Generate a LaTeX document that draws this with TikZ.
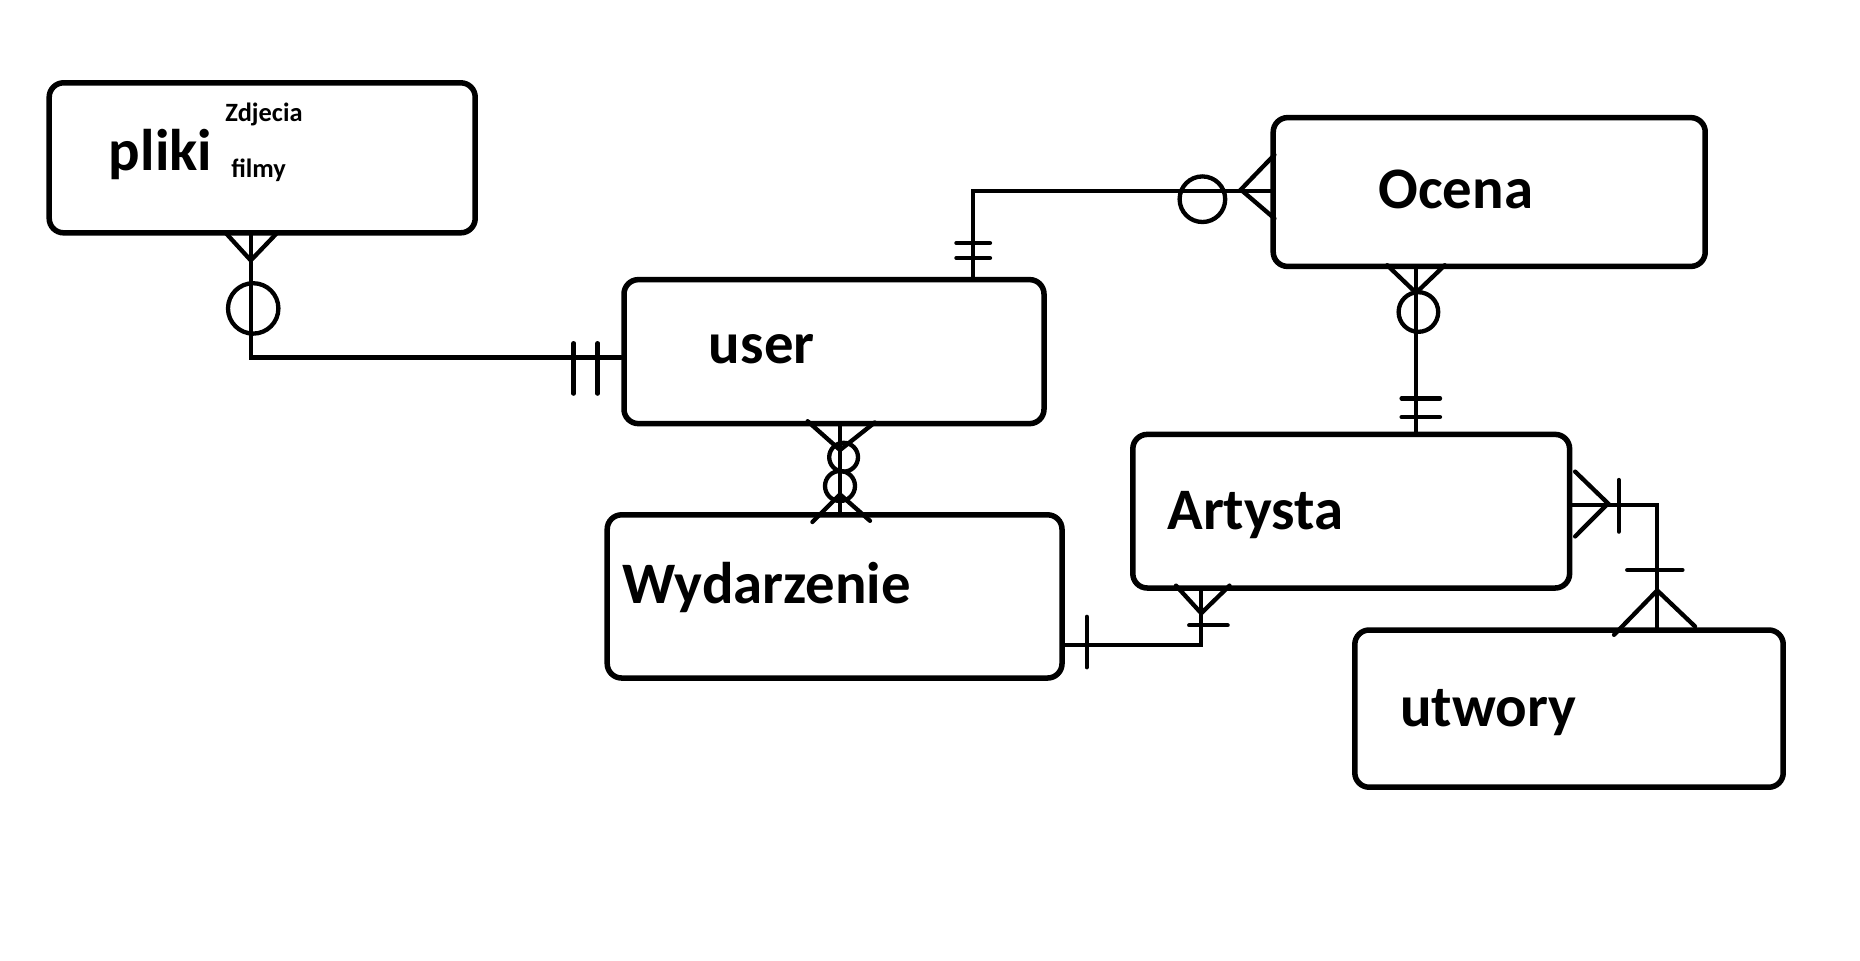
\documentclass[tikz,border=0pt]{standalone}
\usepackage{fontspec}
\setmainfont{Carlito}
\usetikzlibrary{fit}
\newcommand{\ent} {\fontsize{24.5}{29}\selectfont\bfseries}
\newcommand{\attr}{\fontsize{11}{13}\selectfont\bfseries}

\begin{document}
\begin{tikzpicture}[x=0.5pt,y=-0.5pt,line width=1.8pt,line cap=round,
    box/.style={draw,line width=2.3pt,rounded corners=6pt,inner sep=0pt},
    lbl/.style={anchor=base west,inner sep=0pt}]
      \useasboundingbox (0,0) rectangle (1550,800);
      % entities
      \node[box,fit={(41,69) (396,194)}]    (pliki)   {};
      \node[box,fit={(520,233) (870,353)}]  (user)    {};
      \node[box,fit={(1061,98) (1421,222)}] (ocena)   {};
      \node[box,fit={(944,362) (1308,490)}] (artysta) {};
      \node[box,fit={(506,429) (885,565)}]  (wyd)     {};
      \node[box,fit={(1129,525) (1486,656)}] (utwory) {};
      \node[lbl] (plikiL)   at (89,142)  {\ent pliki};
      \node[lbl] (zdjL)     at (186,101) {\attr Zdjecia};
      \node[lbl] (filmyL)   at (191,148) {\attr filmy};
      \node[lbl] (userL)    at (589,303) {\ent user};
      \node[lbl] (ocenaL)   at (1147,174) {\ent Ocena};
      \node[lbl] (artystaL) at (971,441) {\ent Artysta};
      \node[lbl] (wydL)     at (517,503) {\ent Wydarzenie};
      \node[lbl] (utworyL)  at (1165,605) {\ent utwory};
      % pliki -- user
      \draw (pliki.south -| 209,0) |- (user.west |- 0,298);
      \draw (188,194) -- (209,217) -- (231,194);
      \draw (211,257) circle[radius=21];
      \draw (478,286) -- (478,328) (498,286) -- (498,328);
      % user -- ocena
      \draw (user.north -| 811,0) |- (ocena.west |- 0,159);
      \draw (797,202.5) -- (825,202.5) (797,215) -- (825,215);
      \draw (1002,166) circle[radius=19];
      \draw (1062,129) -- (1034,158) -- (1062,182);
      % ocena -- artysta
      \draw (ocena.south -| 1180,0) -- (artysta.north -| 1180,0);
      \draw (1156,221) -- (1180,244) -- (1204,221);
      \draw (1182,260) circle[radius=16.5];
      \draw (1168,332) -- (1200,332) (1168,347.5) -- (1200,347.5);
      % user -- wydarzenie
      \draw (user.south -| 700,0) -- (wyd.north -| 700,0);
      \draw (673,351) -- (700,375) -- (729,352);
      \draw (703,381) circle[radius=12];
      \draw (700,405) circle[radius=12.5];
      \draw (677,435) -- (700,412) -- (725,434);
      % wydarzenie -- artysta
      \draw (wyd.east |- 0,537.5) -| (artysta.south -| 1001,0);
      \draw (905.6,514) -- (905.6,556);
      \draw (980,488) -- (1001,511) -- (1024.6,488);
      \draw (991,521) -- (1023,521);
      % artysta -- utwory
      \draw (artysta.east |- 0,421) -| (utwory.north -| 1381,0);
      \draw (1312.6,393) -- (1340,419.5) -- (1312.6,447);
      \draw (1349,400) -- (1349,443);
      \draw (1356,475) -- (1402,475);
      \draw (1345,529) -- (1381,492) -- (1412.5,522);
\end{tikzpicture}
\end{document}
